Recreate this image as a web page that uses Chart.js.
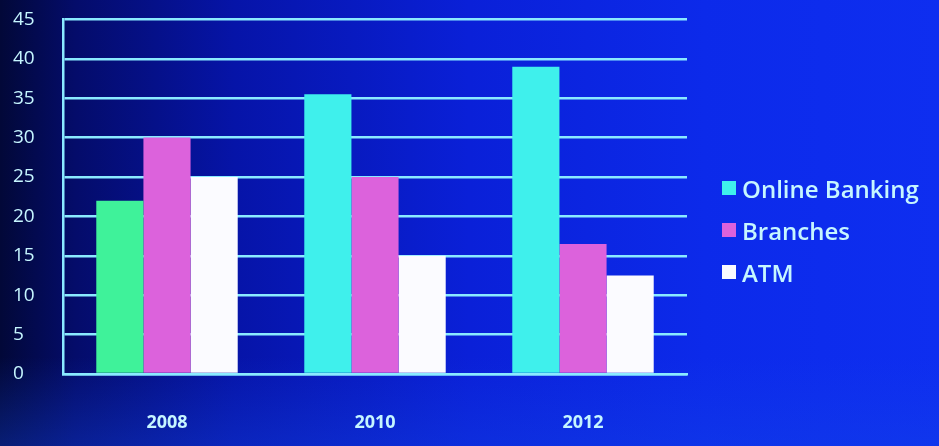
<!DOCTYPE html>
<html>
<head>
<meta charset="utf-8">
<script src="https://cdn.jsdelivr.net/npm/chart.js@4.4.1/dist/chart.umd.min.js"></script>
<style>
  html, body { margin: 0; padding: 0; }
  body {
    width: 939px; height: 446px; overflow: hidden; position: relative;
    background:
      linear-gradient(180deg, rgba(0,0,0,0) 0%, rgba(0,0,0,0) 80%, rgba(20,70,230,0.35) 100%),
      linear-gradient(90deg, #020838 0%, #040c6a 8%, #0614a8 25%, #0a20d8 50%, #0c2aea 75%, #0e2ef0 100%);
    font-family: "Open Sans", "DejaVu Sans", sans-serif;
  }
  #wrap { position: absolute; left: 0; top: 0; width: 939px; height: 446px; }
  #legend { position: absolute; left: 722px; top: 167px; color: #c6f6ff; font-size: 24px; font-weight: 600; }
  .legend-row { display: flex; align-items: center; height: 42px; }
  .legend-row span.box { width: 14px; height: 14px; margin-right: 6px; display: inline-block; }
</style>
</head>
<body>
<div id="wrap"><canvas id="bankChart"></canvas></div>
<div id="legend"></div>
<script>
// --- Data ---
const years = ['2008', '2010', '2012'];
const onlineBanking = [22, 35.5, 39];
const branches = [30, 25, 16.5];
const atm = [25, 15, 12.5];
const yTicks = [0, 5, 10, 15, 20, 25, 30, 35, 40, 45];

// --- Colors ---
const lineColor = '#8aeaff';
const textColor = '#c6f6ff';
const colOnline = ['#3ff29a', '#3ff0ec', '#3ff0ec'];
const colBranch = '#dc62dc';
const colAtm = '#fbfbff';

const canvas = document.getElementById('bankChart');

new Chart(canvas, {
    type: 'bar',
    data: {
        labels: years,
        datasets: [
            { label: 'Online Banking', data: onlineBanking, backgroundColor: colOnline, borderWidth: 0 },
            { label: 'Branches', data: branches, backgroundColor: colBranch, borderWidth: 0 },
            { label: 'ATM', data: atm, backgroundColor: colAtm, borderWidth: 0 }
        ]
    },
    options: {
        responsive: true,
        maintainAspectRatio: false,
        animation: false,
        layout: { padding: { left: 13, right: 252, top: 19, bottom: 0 } },
        datasets: { bar: { categoryPercentage: 0.68, barPercentage: 1.0 } },
        scales: {
            x: {
                grid: { display: false },
                border: { display: true, color: lineColor, width: 2.5 },
                ticks: { color: textColor, padding: 30, font: { family: 'Open Sans', size: 18, weight: '700' } },
                afterFit: (axis) => { axis.height = 72; }
            },
            y: {
                min: 0, max: 45,
                afterBuildTicks: (axis) => { axis.ticks = yTicks.map(v => ({ value: v })); },
                grid: { color: lineColor, lineWidth: 2.5, drawTicks: false },
                border: { display: true, color: lineColor, width: 2.5 },
                ticks: { color: textColor, padding: 8, crossAlign: 'far', font: { family: 'Open Sans', size: 19 } },
                afterFit: (axis) => { axis.width = 50; }
            }
        },
        plugins: {
            legend: { display: false },
            tooltip: { enabled: false }
        }
    }
});

const legendItems = [
    { label: 'Online Banking', color: '#3ff0ec' },
    { label: 'Branches', color: colBranch },
    { label: 'ATM', color: colAtm }
];
document.getElementById('legend').innerHTML = legendItems.map(it => `
    <div class="legend-row"><span class="box" style="background:${it.color}"></span><span>${it.label}</span></div>`).join('');
</script>
</body>
</html>
